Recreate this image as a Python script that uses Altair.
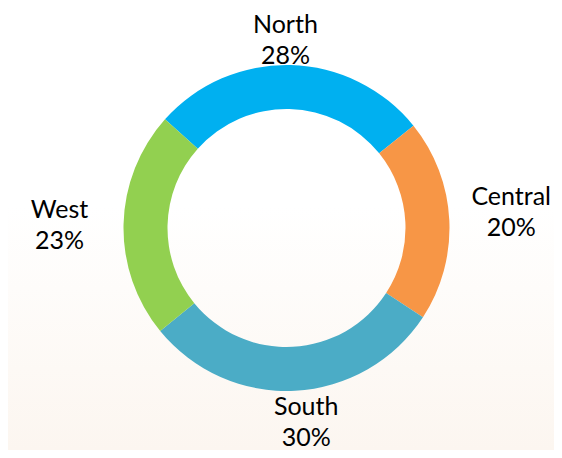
import math
import altair as alt
import pandas as pd

regions = ["North", "Central", "South", "West"]
shares = [27.6, 20.0, 29.9, 22.5]
pct_labels = ["28%", "20%", "30%", "23%"]
colors = ["#00B0F0", "#F79646", "#4BACC6", "#92D050"]

df = pd.DataFrame({
    "region": regions,
    "share": shares,
    "pct": pct_labels,
    "idx": list(range(len(regions))),
})

start = math.radians(-48.2)
CX, CY = 278.5, 220
W, H = 546, 442

bg = alt.Chart(alt.Data(values=[{"a": 1}])).mark_rect(
    fill=alt.LinearGradient(
        gradient="linear", x1=0, y1=0, x2=0, y2=1,
        stops=[
            alt.GradientStop(color="#FFFFFF", offset=0),
            alt.GradientStop(color="#FFFFFF", offset=0.45),
            alt.GradientStop(color="#FCF6F0", offset=1),
        ],
    ),
    strokeWidth=0,
).encode(
    x=alt.value(0), x2=alt.value(W), y=alt.value(0), y2=alt.value(H)
)

base = alt.Chart(df).encode(
    theta=alt.Theta("share:Q", stack=True,
                    scale=alt.Scale(range=[start, start + 2 * math.pi])),
    order=alt.Order("idx:Q"),
)

arc = base.mark_arc(outerRadius=163, innerRadius=119).encode(
    color=alt.Color("region:N", scale=alt.Scale(domain=regions, range=colors), legend=None),
    x=alt.value(CX),
    y=alt.value(CY),
)

label_layout = {
    "North": dict(radius=190, dx=-6, dy=-13),
    "Central": dict(radius=225, dx=0, dy=-20),
    "South": dict(radius=202, dx=9, dy=-23),
    "West": dict(radius=227, dx=0, dy=-13),
}

text_layers = []
for name, lay in label_layout.items():
    t = base.transform_calculate(
        lab="datum.region + '\\n' + datum.pct"
    ).mark_text(
        radius=lay["radius"], dx=lay["dx"], dy=lay["dy"],
        lineBreak="\n", font="Lato", fontSize=25, lineHeight=31,
        align="center", baseline="middle", color="#000000",
    ).encode(
        text=alt.condition(alt.datum.region == name, "lab:N", alt.value("")),
        x=alt.value(CX),
        y=alt.value(CY),
    )
    text_layers.append(t)

chart = alt.layer(bg, arc, *text_layers).properties(
    width=W, height=H, padding=0, autosize="none"
).configure_view(strokeWidth=0)

chart.save("out.html", embed_options={"renderer": "svg", "actions": False})
